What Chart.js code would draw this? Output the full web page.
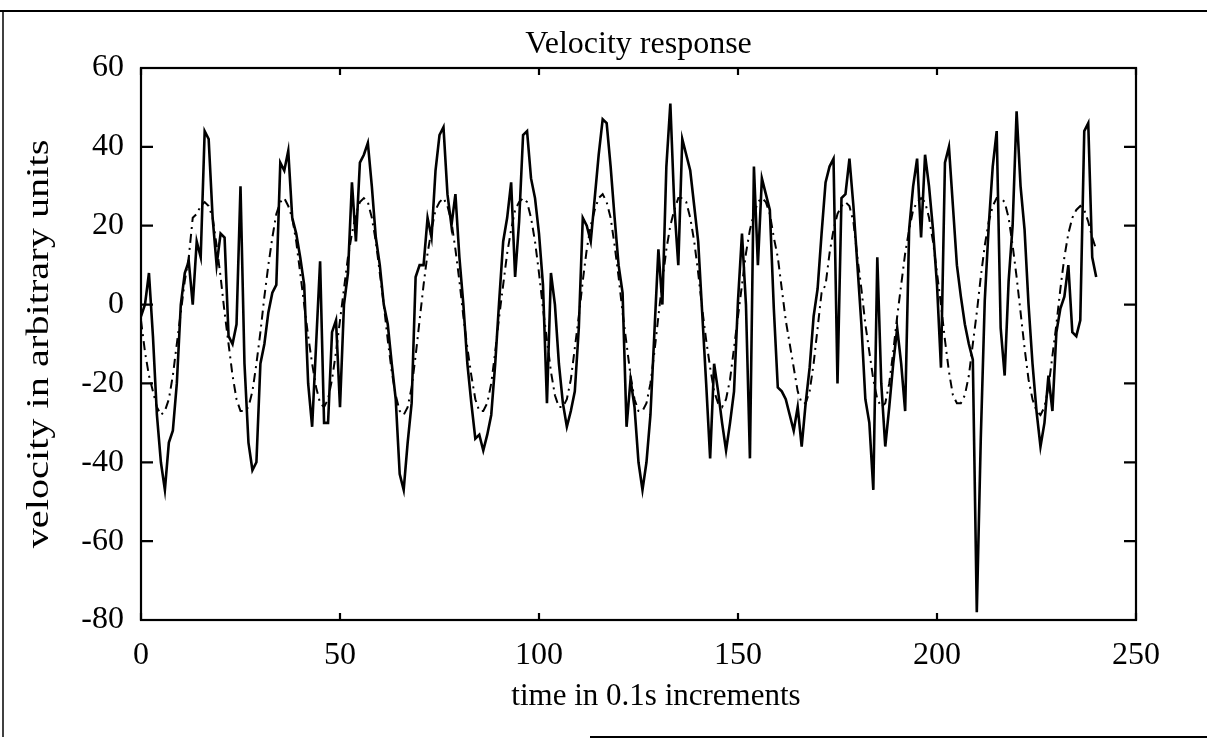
<!DOCTYPE html>
<html>
<head>
<meta charset="utf-8">
<script src="https://cdn.jsdelivr.net/npm/chart.js@4/dist/chart.umd.min.js"></script>
<style>
  html, body { margin: 0; padding: 0; background: #fff; }
  #wrap { width: 1207px; height: 741px; position: relative; }
</style>
</head>
<body>
<div id="wrap"><canvas id="c" width="1207" height="741"></canvas></div>
<script>
const chartTitle = "Velocity response";
const xLabel = "time in 0.1s increments";
const yLabel = "velocity in arbitrary units";

const time = [
  0,1,2,3,4,5,6,7,8,9,10,11,12,13,14,15,16,17,18,19,
  20,21,22,23,24,25,26,27,28,29,30,31,32,33,34,35,36,37,38,39,
  40,41,42,43,44,45,46,47,48,49,50,51,52,53,54,55,56,57,58,59,
  60,61,62,63,64,65,66,67,68,69,70,71,72,73,74,75,76,77,78,79,
  80,81,82,83,84,85,86,87,88,89,90,91,92,93,94,95,96,97,98,99,
  100,101,102,103,104,105,106,107,108,109,110,111,112,113,114,115,116,117,118,119,
  120,121,122,123,124,125,126,127,128,129,130,131,132,133,134,135,136,137,138,139,
  140,141,142,143,144,145,146,147,148,149,150,151,152,153,154,155,156,157,158,159,
  160,161,162,163,164,165,166,167,168,169,170,171,172,173,174,175,176,177,178,179,
  180,181,182,183,184,185,186,187,188,189,190,191,192,193,194,195,196,197,198,199,
  200,201,202,203,204,205,206,207,208,209,210,211,212,213,214,215,216,217,218,219,
  220,221,222,223,224,225,226,227,228,229,230,231,232,233,234,235,236,237,238,239,240
];

// solid line (measured velocity)
const measured = [
  -3, 0, 8, -8, -28, -40, -47, -35, -32, -20,
  0, 8, 11, 0, 16, 12, 44, 42, 22, 10,
  18, 17, -8, -10, -5, 30, -15, -35, -42, -40,
  -15, -10, -2, 3, 5, 36, 34, 39, 22, 18,
  12, 5, -20, -31, -10, 11, -30, -30, -7, -4,
  -26, 0, 8, 31, 16, 36, 38, 41, 30, 17,
  10, 0, -5, -15, -24, -43, -47, -35, -25, 7,
  10, 10, 22, 17, 34, 43, 45, 28, 20, 28,
  12, 0, -15, -25, -34, -33, -37, -33, -28, -15,
  1, 16, 22, 31, 7, 21, 43, 44, 32, 27,
  18, 5, -25, 8, 0, -15, -25, -31, -27, -22,
  -6, 22, 20, 16, 27, 38, 47, 46, 35, 22,
  10, 3, -31, -19, -26, -40, -47, -40, -28, -7,
  14, 0, 35, 51, 25, 10, 42, 38, 34, 25,
  16, -2, -20, -39, -15, -22, -30, -37, -30, -22,
  1, 18, 0, -39, 35, 10, 32, 28, 24, -1,
  -21, -22, -24, -28, -32, -26, -36, -25, -16, -3,
  4, 18, 31, 35, 37, -20, 27, 28, 37, 25,
  10, -5, -24, -30, -47, 12, -20, -36, -26, -15,
  -6, -15, -27, 19, 30, 37, 17, 38, 30, 19,
  5, -16, 36, 40, 25, 10, 2, -5, -10, -14,
  -78, -34, 1, 20, 35, 44, -6, -18, 6, 20,
  49, 30, 19, 0, -15, -27, -36, -30, -18, -27,
  -7, -1, 2, 10, -7, -8, -4, 44, 46, 12, 7
];

// dash-dot line (model response)
const model = [
  -4, -12, -18, -22, -26, -28, -27, -24, -18, -10,
  -2, 6, 12, 22, 23, 25, 26, 25, 22, 15,
  7, -2, -10, -18, -24, -27, -27, -26, -22, -15,
  -7, 2, 10, 17, 23, 26, 27, 25, 22, 16,
  8, 0, -8, -15, -21, -25, -26, -24, -19, -12,
  -4, 4, 12, 18, 23, 26, 27, 26, 22, 16,
  8, 0, -9, -17, -23, -27, -28, -26, -21, -13,
  -4, 5, 13, 19, 24, 26, 27, 25, 21, 14,
  6, -3, -11, -18, -24, -27, -27, -25, -20, -12,
  -3, 5, 13, 19, 24, 26, 27, 26, 22, 16,
  8, -1, -9, -17, -23, -26, -26, -24, -19, -11,
  -3, 6, 14, 20, 24, 27, 28, 26, 22, 15,
  7, -2, -10, -18, -24, -27, -27, -25, -20, -12,
  -3, 6, 14, 20, 24, 27, 27, 26, 22, 16,
  8, -1, -9, -16, -22, -25, -26, -24, -19, -11,
  -3, 5, 13, 19, 23, 26, 27, 26, 23, 17,
  12, 4, -4, -10, -16, -22, -25, -25, -22, -15,
  -6, 3, 5, 13, 19, 23, 25, 26, 25, 21,
  12, 4, -5, -12, -19, -24, -26, -25, -20, -12,
  -3, 5, 13, 19, 24, 26, 27, 26, 22, 16,
  8, 0, -9, -17, -23, -25, -25, -23, -18, -10,
  -2, 7, 15, 21, 25, 27, 27, 26, 22, 15,
  7, -2, -11, -19, -24, -27, -28, -26, -21, -13,
  -5, 4, 12, 18, 22, 24, 25, 24, 21, 17, 14
];

const xTicks = [0, 50, 100, 150, 200, 250];
const yTicks = [-80, -60, -40, -20, 0, 20, 40, 60];

const FONT = '"Liberation Serif", "Times New Roman", serif';

const decor = {
  id: 'decor',
  beforeDraw(chart) {
    const ctx = chart.ctx;
    ctx.save();
    ctx.fillStyle = '#fff';
    ctx.fillRect(0, 0, chart.width, chart.height);
    ctx.restore();
  },
  afterDraw(chart) {
    const { ctx, chartArea: a } = chart;
    const xs = chart.scales.x, ys = chart.scales.y;
    ctx.save();
    ctx.strokeStyle = '#000';
    ctx.lineWidth = 2.2;
    ctx.strokeRect(a.left, a.top, a.right - a.left, a.bottom - a.top);
    ctx.beginPath();
    xTicks.forEach(v => {
      const px = xs.getPixelForValue(v);
      ctx.moveTo(px, a.bottom); ctx.lineTo(px, a.bottom - 7);
      ctx.moveTo(px, a.top); ctx.lineTo(px, a.top + 7);
    });
    yTicks.forEach(v => {
      const py = ys.getPixelForValue(v);
      ctx.moveTo(a.left, py); ctx.lineTo(a.left + 12, py);
      ctx.moveTo(a.right, py); ctx.lineTo(a.right - 12, py);
    });
    ctx.stroke();

    // outer page frame
    ctx.lineWidth = 2;
    ctx.beginPath();
    ctx.moveTo(0, 11); ctx.lineTo(1207, 11);
    ctx.moveTo(590, 737); ctx.lineTo(1207, 737);
    ctx.stroke();
    ctx.lineWidth = 1.5;
    ctx.beginPath();
    ctx.moveTo(3, 11); ctx.lineTo(3, 737);
    ctx.stroke();

    // texts
    ctx.fillStyle = '#000';
    ctx.font = '32px ' + FONT;
    ctx.textAlign = 'center';
    ctx.textBaseline = 'middle';
    const cx = (a.left + a.right) / 2;
    ctx.fillText(chartTitle, cx, 45);
    ctx.font = '31px ' + FONT;
    ctx.fillText(xLabel, 656, 697);
    ctx.font = '32px ' + FONT;
    ctx.translate(40, 344);
    ctx.rotate(-Math.PI / 2);
    ctx.scale(1.26, 1);
    ctx.fillText(yLabel, 0, 0);
    ctx.restore();
  }
};

new Chart(document.getElementById('c'), {
  type: 'line',
  data: {
    datasets: [
      {
        label: 'measured',
        data: time.map((t, i) => ({ x: t, y: measured[i] })),
        borderColor: '#000',
        borderWidth: 2.6,
        pointRadius: 0,
        tension: 0,
        fill: false
      },
      {
        label: 'model',
        data: time.map((t, i) => ({ x: t, y: model[i] })),
        borderColor: '#000',
        borderWidth: 2,
        borderDash: [9, 5, 2, 5],
        pointRadius: 0,
        tension: 0,
        fill: false
      }
    ]
  },
  options: {
    responsive: false,
    devicePixelRatio: 1,
    animation: false,
    layout: { padding: { top: 68, right: 71, left: 0, bottom: 0 } },
    plugins: {
      legend: { display: false },
      title: { display: false },
      tooltip: { enabled: false }
    },
    scales: {
      x: {
        type: 'linear',
        min: 0, max: 250,
        grid: { display: false },
        border: { display: false },
        afterFit(s) { s.height = 121; },
        afterBuildTicks(s) { s.ticks = xTicks.map(v => ({ value: v })); },
        ticks: {
          color: '#000',
          font: { family: FONT, size: 32 },
          padding: 8,
          maxRotation: 0,
          autoSkip: false
        }
      },
      y: {
        min: -80, max: 60,
        grid: { display: false },
        border: { display: false },
        afterFit(s) { s.width = 141; },
        afterBuildTicks(s) { s.ticks = yTicks.map(v => ({ value: v })); },
        ticks: {
          color: '#000',
          font: { family: FONT, size: 32 },
          padding: 9,
          autoSkip: false
        }
      }
    }
  },
  plugins: [decor]
});
</script>
</body>
</html>
